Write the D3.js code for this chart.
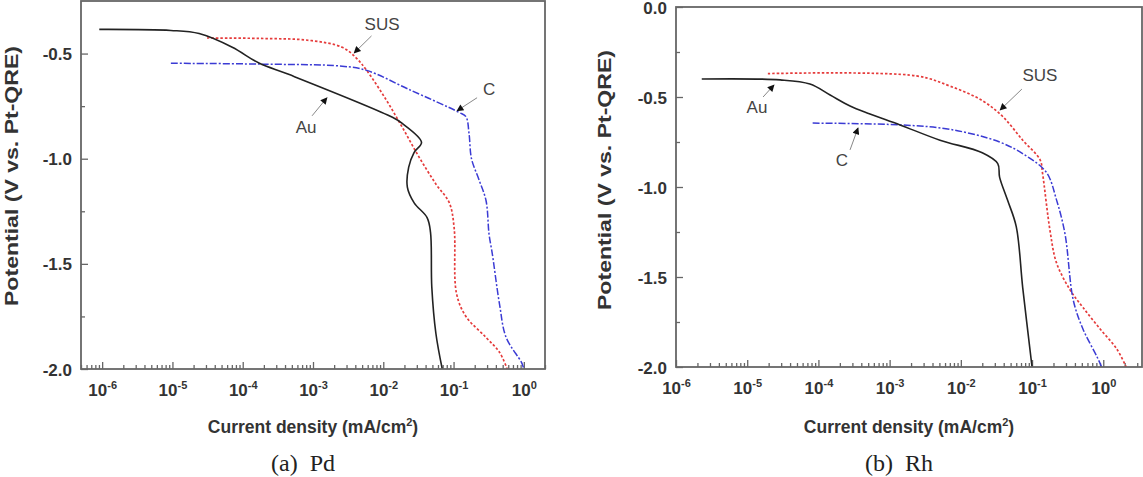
<!DOCTYPE html>
<html lang="en">
<head>
<meta charset="UTF-8">
<title>Polarization curves - (a) Pd, (b) Rh</title>
<script src="https://d3js.org/d3.v7.min.js"></script>
<style>
  body { margin: 0; background: #fff; }
  svg { display: block; }
  .tick line { stroke: #666; stroke-width: 1.3; }
  .title { font-family: "Liberation Sans", Arial, sans-serif; font-weight: bold; font-size: 17.5px; fill: #333; }
  .caption { font-family: "Liberation Serif", "Times New Roman", serif; font-size: 24px; fill: #222; }
  .note { font-family: "Liberation Sans", Arial, sans-serif; font-size: 17px; fill: #444; }
</style>
</head>
<body>
<svg width="1143" height="477"></svg>
<script>
// [current density (mA/cm2), potential (V vs. Pt-QRE)]
const pdAu = [[9.1e-7,-0.385],[9.5e-6,-0.39],[2.4e-5,-0.405],[7.1e-5,-0.47],[1.7e-4,-0.545],[4.6e-4,-0.60],
  [1.35e-2,-0.803],[1.86e-2,-0.832],[3.5e-2,-0.922],[2.75e-2,-0.97],[2.3e-2,-1.04],[2.2e-2,-1.135],
  [2.75e-2,-1.21],[4.2e-2,-1.28],[4.7e-2,-1.35],[4.9e-2,-1.61],[5.6e-2,-1.83],[6.9e-2,-2.0]];
const pdSus = [[3.1e-5,-0.426],[1.7e-4,-0.428],[8.7e-4,-0.437],[2.6e-3,-0.47],[4.1e-3,-0.52],[5.8e-3,-0.58],
  [1.1e-2,-0.72],[1.86e-2,-0.85],[3.2e-2,-0.99],[5.6e-2,-1.12],[8.7e-2,-1.21],[0.102,-1.33],[0.11,-1.64],
  [0.15,-1.75],[0.29,-1.85],[0.45,-1.92],[0.58,-2.0]];
const pdC = [[9.5e-6,-0.546],[1.7e-4,-0.55],[2.6e-3,-0.56],[5.8e-3,-0.58],[2.3e-2,-0.67],[0.12,-0.78],[0.15,-0.80],
  [0.166,-0.88],[0.18,-1.0],[0.23,-1.10],[0.29,-1.20],[0.32,-1.36],[0.355,-1.45],[0.45,-1.69],[0.56,-1.85],
  [0.93,-1.97],[1.0,-2.0]];

const rhAu = [[2.3e-6,-0.40],[2.9e-5,-0.405],[7.6e-5,-0.428],[1.46e-4,-0.489],[2.78e-4,-0.55],[5.3e-4,-0.594],
  [1.4e-3,-0.655],[5.1e-3,-0.74],[2.0e-2,-0.81],[3.3e-2,-0.87],[3.5e-2,-0.945],[4.5e-2,-1.07],[6.0e-2,-1.22],
  [7.4e-2,-1.56],[0.1,-2.0]];
const rhSus = [[1.95e-5,-0.37],[2.4e-3,-0.383],[7.1e-3,-0.44],[2.0e-2,-0.52],[3.9e-2,-0.61],[7.4e-2,-0.74],
  [0.13,-0.85],[0.14,-0.92],[0.18,-1.25],[0.22,-1.42],[0.34,-1.57],[0.52,-1.67],[0.91,-1.79],[1.55,-1.9],[2.1,-2.0]];
const rhC = [[8.3e-5,-0.645],[1.4e-3,-0.655],[7.1e-3,-0.68],[3.5e-2,-0.75],[8.5e-2,-0.83],[0.16,-0.92],
  [0.22,-1.07],[0.29,-1.26],[0.38,-1.63],[0.52,-1.79],[0.81,-1.94],[0.95,-2.0]];

const xTickExps = [-6, -5, -4, -3, -2, -1, 0];
const yTicksPd = [-0.5, -1.0, -1.5, -2.0];
const yTicksRh = [0.0, -0.5, -1.0, -1.5, -2.0];

// label: [x, y], arrow: [x1, y1, x2, y2] in data units
const notesPd = [
  {text: 'SUS', at: [9.6e-3, -0.359], arrow: [6.8e-3, -0.416, 3.85e-3, -0.497]},
  {text: 'C', at: [0.32, -0.668], arrow: [0.216, -0.71, 0.112, -0.772]},
  {text: 'Au', at: [8.0e-4, -0.848], arrow: [9.7e-4, -0.796, 1.58e-3, -0.71]}
];
const notesRh = [
  {text: 'Au', at: [1.37e-5, -0.556], arrow: [1.67e-5, -0.5, 2.38e-5, -0.433]},
  {text: 'C', at: [2.14e-4, -0.85], arrow: [2.78e-4, -0.794, 3.6e-4, -0.672]},
  {text: 'SUS', at: [0.129, -0.378], arrow: [0.072, -0.456, 0.0356, -0.572]}
];

const styles = {
  Au: {stroke: '#222', width: 1.6, dash: null},
  SUS: {stroke: '#e53b3b', width: 1.7, dash: '2.5,2'},
  C: {stroke: '#3b3bd4', width: 1.5, dash: '7,2,2,2'}
};

const TICK_FONT = 'bold 17px "Liberation Sans", Arial, sans-serif';

const svg = d3.select('svg');
svg.append('defs').append('marker')
  .attr('id', 'head')
  .attr('viewBox', '0 0 10 10')
  .attr('refX', 9).attr('refY', 5)
  .attr('markerWidth', 9).attr('markerHeight', 7)
  .attr('markerUnits', 'userSpaceOnUse')
  .attr('orient', 'auto')
  .append('path').attr('d', 'M0,0L10,5L0,10z').attr('fill', '#111');

function styleAxis(a) {
  a.select('.domain').remove();
  a.selectAll('text').attr('fill', '#333').style('font', TICK_FONT);
}

function panel(opt) {
  const x = d3.scaleLog().domain(opt.xDomain).range([opt.left, opt.right]);
  const y = d3.scaleLinear().domain(opt.yDomain).range([opt.bottom, opt.top]);
  const g = svg.append('g');

  const clipId = 'clip' + opt.id;
  svg.select('defs').append('clipPath').attr('id', clipId)
    .append('rect').attr('x', opt.left).attr('y', opt.top)
    .attr('width', opt.right - opt.left).attr('height', opt.bottom - opt.top);

  // minor and major x ticks
  const majors = xTickExps.map(e => Math.pow(10, e));
  const minors = [];
  for (let e = -7; e <= 0; e++) {
    for (let m = 2; m <= 9; m++) {
      const v = m * Math.pow(10, e);
      if (v >= opt.xDomain[0] && v <= opt.xDomain[1]) minors.push(v);
    }
  }
  g.append('g').attr('transform', `translate(0,${opt.bottom})`)
    .call(d3.axisBottom(x).tickValues(minors).tickSize(-4).tickFormat(''))
    .call(styleAxis);
  const xa = g.append('g').attr('transform', `translate(0,${opt.bottom})`)
    .call(d3.axisBottom(x).tickValues(majors).tickSize(-7).tickFormat(''))
    .call(styleAxis);
  xa.selectAll('.tick text').remove();
  xa.selectAll('.tick').append('text')
    .attr('y', 27).attr('text-anchor', 'middle').attr('fill', '#333')
    .style('font', TICK_FONT)
    .each(function(d, i) {
      const t = d3.select(this);
      t.append('tspan').text('10');
      t.append('tspan').attr('dy', -7).style('font-size', '11px').text(xTickExps[i]);
    });

  // y ticks
  const yMinors = [-0.25, -0.75, -1.25, -1.75].filter(v => v < opt.yDomain[1]);
  g.append('g').attr('transform', `translate(${opt.left},0)`)
    .call(d3.axisLeft(y).tickValues(yMinors).tickSize(-4).tickFormat(''))
    .call(styleAxis);
  g.append('g').attr('transform', `translate(${opt.left},0)`)
    .call(d3.axisLeft(y).tickValues(opt.yTicks).tickSize(-7).tickPadding(9).tickFormat(d => d.toFixed(1)))
    .call(styleAxis)
    .selectAll('text').attr('dy', '0.36em');

  // curves
  const line = d3.line().x(d => x(d[0])).y(d => y(d[1])).curve(d3.curveCatmullRom.alpha(0.5));
  opt.series.forEach(s => {
    const st = styles[s.name];
    g.append('path').datum(s.data)
      .attr('clip-path', `url(#${clipId})`)
      .attr('d', line)
      .attr('fill', 'none')
      .attr('stroke', st.stroke)
      .attr('stroke-width', st.width)
      .attr('stroke-dasharray', st.dash);
  });

  // frame
  g.append('rect')
    .attr('x', opt.left).attr('y', opt.top)
    .attr('width', opt.right - opt.left).attr('height', opt.bottom - opt.top)
    .attr('fill', 'none').attr('stroke', '#666').attr('stroke-width', 1.8);

  // annotations
  opt.notes.forEach(n => {
    g.append('line')
      .attr('x1', x(n.arrow[0])).attr('y1', y(n.arrow[1]))
      .attr('x2', x(n.arrow[2])).attr('y2', y(n.arrow[3]))
      .attr('stroke', '#888').attr('stroke-width', 1)
      .attr('marker-end', 'url(#head)');
    g.append('text').attr('class', 'note')
      .attr('x', x(n.at[0])).attr('y', y(n.at[1]))
      .attr('text-anchor', 'middle').attr('dy', '0.36em')
      .text(n.text);
  });

  // titles
  const cx = (opt.left + opt.right) / 2;
  const xt = g.append('text').attr('class', 'title')
    .attr('x', cx).attr('y', 433).attr('text-anchor', 'middle');
  xt.append('tspan').text('Current density (mA/cm');
  xt.append('tspan').attr('dy', -7).style('font-size', '11px').text('2');
  xt.append('tspan').attr('dy', 7).text(')');

  g.append('text').attr('class', 'title')
    .attr('transform', `translate(${opt.yTitleX},${opt.yTitleY}) rotate(-90)`)
    .attr('text-anchor', 'middle')
    .attr('textLength', 260).attr('lengthAdjust', 'spacingAndGlyphs')
    .text('Potential (V vs. Pt-QRE)');

  g.append('text').attr('class', 'caption')
    .attr('x', cx - 10).attr('y', 471).attr('text-anchor', 'middle')
    .text(opt.caption);
}

panel({
  id: 'pd', left: 81, right: 545, top: 1, bottom: 369,
  xDomain: [5e-7, 2], yDomain: [-2, -0.25], yTicks: yTicksPd,
  yTitleX: 18, yTitleY: 176, caption: '(a)\u00a0\u00a0Pd',
  series: [{name: 'SUS', data: pdSus}, {name: 'C', data: pdC}, {name: 'Au', data: pdAu}],
  notes: notesPd
});

panel({
  id: 'rh', left: 676, right: 1142, top: 7, bottom: 367,
  xDomain: [1e-6, 3.5], yDomain: [-2, 0], yTicks: yTicksRh,
  yTitleX: 611, yTitleY: 180, caption: '(b)\u00a0\u00a0Rh',
  series: [{name: 'SUS', data: rhSus}, {name: 'C', data: rhC}, {name: 'Au', data: rhAu}],
  notes: notesRh
});
</script>
</body>
</html>
